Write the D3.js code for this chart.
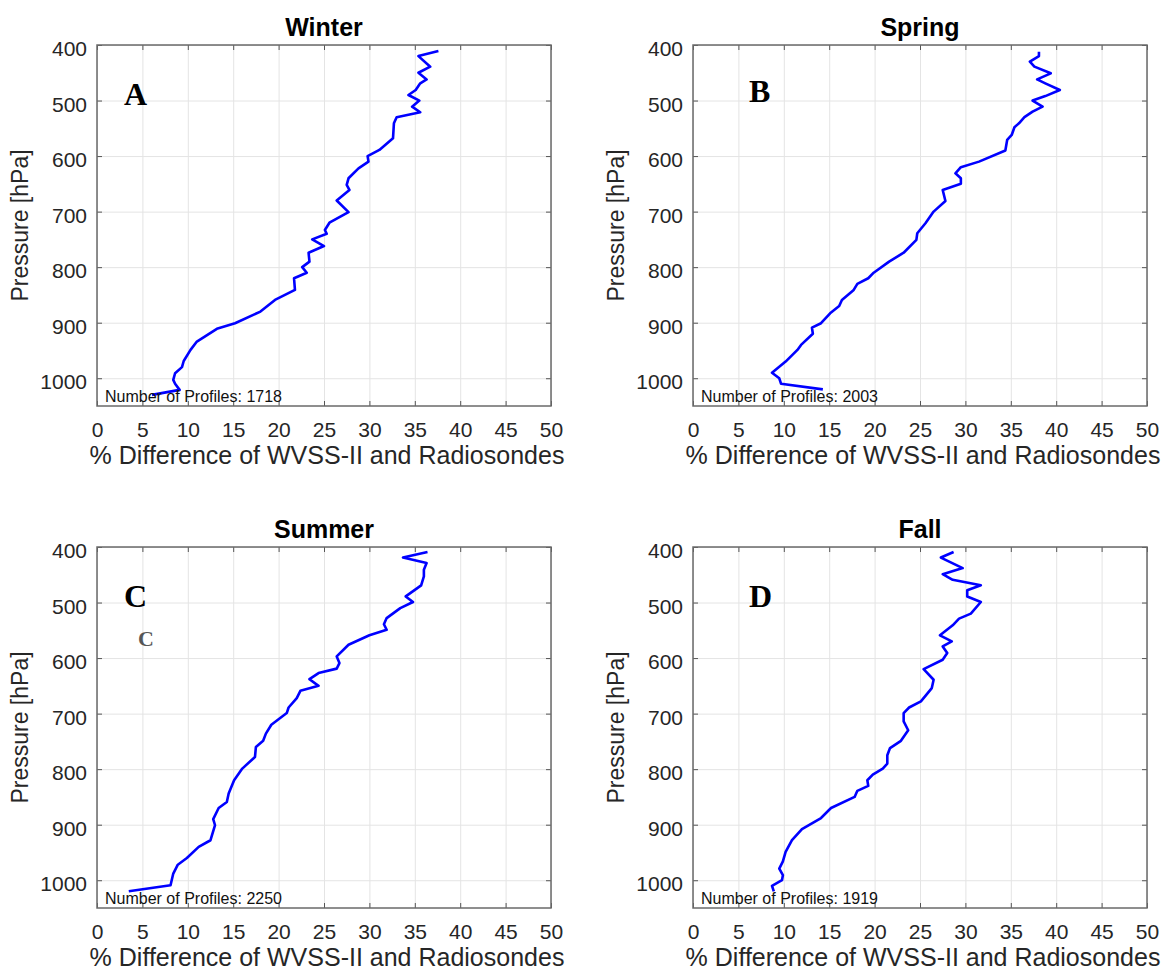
<!DOCTYPE html>
<html>
<head>
<meta charset="utf-8">
<script src="https://cdn.jsdelivr.net/npm/d3@7"></script>
<style>
  body { margin: 0; background: #fff; }
  text { font-family: "Liberation Sans", Arial, sans-serif; }
</style>
</head>
<body>
<div id="chart-area"></div>
<script>
// WVSS-II vs radiosonde % difference profiles, one panel per season

var seasons = ["Winter", "Spring", "Summer", "Fall"];
var panelLetters = ["A", "B", "C", "D"];
var profileCounts = [1718, 2003, 2250, 1919];

var xTicks = [0, 5, 10, 15, 20, 25, 30, 35, 40, 45, 50];
var yTicks = [400, 500, 600, 700, 800, 900, 1000];

// pressure levels (hPa) and % difference
var winterP = [411,420,439,450,462,469,481,490,500,511,521,530,541,568,589,600,610,622,640,652,661,680,701,720,733,740,750,762,774,790,800,810,820,841,859,880,901,911,934,949,969,980,991,1003,1010,1021,1030];
var winterD = [37.6,35.4,36.7,35.4,36.3,35.6,35.1,34.3,35.5,34.7,35.6,33.0,32.7,32.6,31.1,29.8,29.9,28.8,27.7,27.5,27.8,26.4,27.7,25.6,25.1,25.3,23.7,25.0,23.3,23.4,22.6,23.1,21.7,21.8,19.6,18.0,15.2,13.2,11.0,10.3,9.55,9.36,8.6,8.4,8.6,9.1,6.06];

var springP = [412,420,430,439,451,462,469,481,492,500,511,520,530,541,548,562,571,590,610,620,631,640,650,661,681,700,721,739,751,774,790,810,820,830,841,859,870,883,901,909,920,940,949,970,990,1000,1010,1020];
var springD = [38.1,38.1,37.1,37.6,39.4,37.9,38.8,40.4,38.8,37.4,38.5,37.4,36.5,35.9,35.4,35.1,34.6,34.4,31.5,29.5,28.9,29.5,29.5,27.5,27.8,26.5,25.6,24.7,24.6,23.2,21.6,19.9,19.3,18.1,17.7,16.4,16.1,15.1,14.1,13.1,13.2,11.9,11.5,10.2,8.7,9.5,9.7,14.3];

var summerP = [409,419,429,441,453,469,489,499,510,528,539,549,559,576,597,609,619,627,638,650,659,672,689,699,720,736,749,760,778,799,820,844,859,870,890,901,928,940,960,972,988,1009,1020];
var summerD = [36.4,33.7,36.3,36.0,36.0,35.7,34.0,34.8,33.4,31.9,31.6,31.9,30.0,27.7,26.4,26.7,26.4,24.4,23.4,24.4,22.4,22.0,21.1,20.9,19.2,18.6,18.3,17.5,17.4,16.0,15.1,14.5,14.3,13.4,12.8,13.0,12.5,11.2,9.9,8.9,8.4,8.1,3.5];

var fallP = [409,419,438,449,459,469,478,489,499,520,529,541,559,570,579,591,603,620,639,654,678,689,699,714,730,749,762,775,790,799,810,820,830,839,850,870,888,908,928,949,966,979,991,1000,1010,1020];
var fallD = [28.7,27.3,29.7,27.5,28.6,31.7,30.2,30.2,31.7,30.6,29.3,28.6,27.2,28.5,27.5,28.0,27.5,25.4,26.5,26.3,25.1,23.8,23.2,23.2,23.7,22.9,21.7,21.4,21.4,20.9,19.8,19.2,19.3,18.1,17.8,15.2,14.1,12.0,10.9,10.2,9.9,9.5,9.9,9.8,8.7,8.9];

var pressures = [winterP, springP, summerP, fallP];
var diffs = [winterD, springD, summerD, fallD];

// panel positions (top-left of the plot box)
var panelX = [97, 693, 97, 693];
var panelY = [45, 45, 547, 547];
var width = 454, height = 361;

var svg = d3.select("#chart-area")
    .append("svg")
        .attr("width", 1164)
        .attr("height", 972)
        .style("background", "#fff");

var x = d3.scaleLinear().domain([0, 50]).range([0, width]);
var y = d3.scaleLinear().domain([400, 1050]).range([0, height]);

var line = d3.line()
    .x(function(d) { return x(d[0]); })
    .y(function(d) { return y(d[1]); });

seasons.forEach(function(season, k) {
    var g = svg.append("g")
        .attr("transform", "translate(" + panelX[k] + "," + panelY[k] + ")");

    // grid lines
    g.append("g")
        .attr("class", "grid")
        .call(d3.axisBottom(x).tickValues(xTicks).tickSize(height).tickFormat(""))
        .call(function(s) { s.select(".domain").remove(); });
    g.append("g")
        .attr("class", "grid")
        .call(d3.axisRight(y).tickValues(yTicks).tickSize(width).tickFormat(""))
        .call(function(s) { s.select(".domain").remove(); });
    g.selectAll(".grid line").attr("stroke", "#e4e4e4").attr("stroke-width", 1);

    // axes, ticks pointing inward like matlab
    var xAxis = g.append("g")
        .attr("transform", "translate(0," + height + ")")
        .call(d3.axisBottom(x).tickValues(xTicks).tickSizeInner(-5).tickSizeOuter(0).tickPadding(16).tickFormat(d3.format("d")));
    var xTop = g.append("g")
        .call(d3.axisTop(x).tickValues(xTicks).tickSizeInner(-5).tickSizeOuter(0).tickFormat(""));
    var yAxis = g.append("g")
        .call(d3.axisLeft(y).tickValues(yTicks).tickSizeInner(-5).tickSizeOuter(0).tickPadding(10).tickFormat(d3.format("d")));
    var yRight = g.append("g")
        .attr("transform", "translate(" + width + ",0)")
        .call(d3.axisRight(y).tickValues(yTicks).tickSizeInner(-5).tickSizeOuter(0).tickFormat(""));

    [xAxis, xTop, yAxis, yRight].forEach(function(a) {
        a.select(".domain").remove();
        a.selectAll("line").attr("stroke", "#555").attr("stroke-width", 1);
        a.selectAll("text")
            .attr("font-size", "21px")
            .attr("fill", "#262626")
            .style("font-family", "'Liberation Sans', Arial, sans-serif");
    });
    yAxis.selectAll("text").attr("dy", "0.5em");

    // box
    g.append("rect")
        .attr("width", width)
        .attr("height", height)
        .attr("fill", "none")
        .attr("stroke", "#6a6a6a")
        .attr("stroke-width", 1.5);

    // profile
    var pts = diffs[k].map(function(d, i) { return [d, pressures[k][i]]; });
    g.append("path")
        .datum(pts)
        .attr("d", line)
        .attr("fill", "none")
        .attr("stroke", "#0000ff")
        .attr("stroke-width", 2.6)
        .attr("stroke-linejoin", "round");

    g.append("text")
        .attr("x", 8)
        .attr("y", height - 4)
        .attr("font-size", "16px")
        .attr("fill", "#111")
        .text("Number of Profiles: " + profileCounts[k]);

    // title
    g.append("text")
        .attr("x", width / 2)
        .attr("y", -9)
        .attr("text-anchor", "middle")
        .attr("font-size", "25px")
        .attr("font-weight", "bold")
        .attr("fill", "#000")
        .text(season);

    // axis labels
    g.append("text")
        .attr("x", width / 2 + 3)
        .attr("y", height + 58)
        .attr("text-anchor", "middle")
        .attr("font-size", "25px")
        .attr("fill", "#262626")
        .text("% Difference of WVSS-II and Radiosondes");

    g.append("text")
        .attr("transform", "rotate(-90)")
        .attr("x", -height / 2)
        .attr("y", -69)
        .attr("text-anchor", "middle")
        .attr("font-size", "23px")
        .attr("fill", "#262626")
        .text("Pressure [hPa]");

    // panel letter
    g.append("text")
        .attr("x", (k % 2 == 0) ? 27 : 56)
        .attr("y", (k < 2) ? ((k == 0) ? 60 : 57) : 60)
        .style("font-family", "'Liberation Serif', 'Times New Roman', serif")
        .attr("font-size", "32px")
        .attr("font-weight", "bold")
        .attr("fill", "#000")
        .text(panelLetters[k]);
});

// the stray small "c" in the summer panel
svg.append("text")
    .attr("x", 138)
    .attr("y", 646)
    .style("font-family", "'Liberation Serif', 'Times New Roman', serif")
    .attr("font-size", "22px")
    .attr("font-weight", "bold")
    .attr("fill", "#3a3a3a")
    .attr("opacity", 0.85)
    .text("C");
</script>
</body>
</html>
